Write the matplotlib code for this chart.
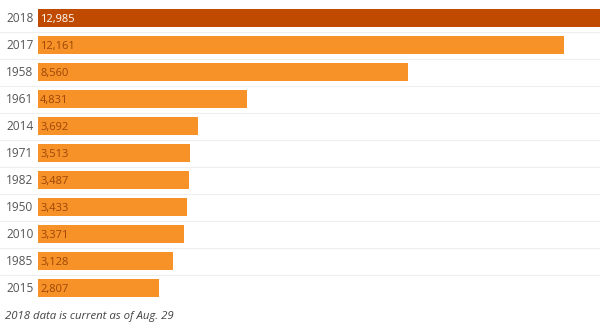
import matplotlib
matplotlib.use("Agg")
import matplotlib.pyplot as plt
import numpy as np

years = ["2018", "2017", "1958", "1961", "2014", "1971", "1982", "1950", "2010", "1985", "2015"]
values = [12985, 12161, 8560, 4831, 3692, 3513, 3487, 3433, 3371, 3128, 2807]

HIGHLIGHT = "#c04b00"
BAR = "#f79229"
LABEL_DARK = "#9c4608"
GRID = "#eeeeee"

plt.rcParams["font.family"] = ["Open Sans", "DejaVu Sans"]

fig = plt.figure(figsize=(6.0, 3.27), dpi=100)
ax = fig.add_axes([38 / 600, 1 - 301.5 / 327, 1 - 38 / 600, (301.5 - 4.5) / 327])

y = np.arange(len(years))
colors = [HIGHLIGHT] + [BAR] * (len(years) - 1)
ax.barh(y, values, height=0.63, color=colors, zorder=2)

ax.set_xlim(0, max(values))
ax.set_ylim(len(years) - 0.5, -0.5)

# row separators run across the full width, including the year labels
trans = ax.get_yaxis_transform()
for sep in np.arange(0.5, len(years) - 0.5, 1.0):
    ax.plot([-0.07, 1.0], [sep, sep], color=GRID, lw=0.8,
            transform=trans, clip_on=False, zorder=1)

pad = max(values) * 0.004
for i, (yr, v) in enumerate(zip(years, values)):
    ax.text(-0.008, i + 0.02, yr, transform=trans, ha="right", va="center",
            fontsize=8.6, color="#555555")
    ax.text(pad, i + 0.04, f"{v:,}", ha="left", va="center", fontsize=8,
            color="white" if i == 0 else LABEL_DARK, zorder=3)

ax.axis("off")

fig.text(5 / 600, 1 - 316 / 327, "2018 data is current as of Aug. 29",
         ha="left", va="center", fontsize=8.2, style="italic", color="#444444")

fig.savefig("out.png", dpi=100)
